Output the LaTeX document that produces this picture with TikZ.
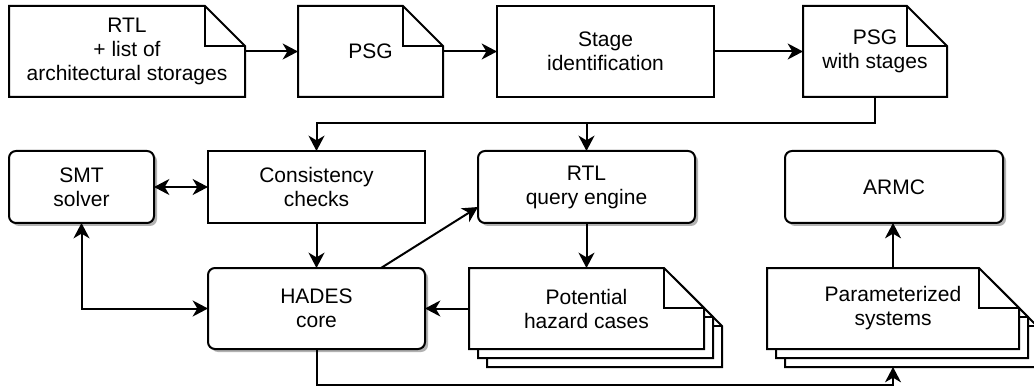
\documentclass[tikz,border=0pt]{standalone}
\usepackage{fontspec}
\setmainfont{Liberation Sans}
\usetikzlibrary{arrows.meta,backgrounds,calc,shadows}

% one drawing unit = one pixel of the layout grid
\newlength\pxu \setlength\pxu{0.75pt}
\newlength\foldsz \setlength\foldsz{40\pxu}

\tikzset{
  box/.style={inner sep=0pt, outer sep=0pt, align=center,
    font=\fontsize{15.75}{18}\selectfont},
  plainbox/.style={box, draw, line width=1.5pt, fill=white},
  roundbox/.style={box, draw, line width=1.5pt, fill=white, rounded corners=7\pxu,
    drop shadow={shadow xshift=3\pxu, shadow yshift=-3\pxu, fill=black!30, opacity=1}},
  docbox/.style={box},
  docline/.style={draw, line width=1.5pt, fill=white},
  link/.style={line width=1.5pt, -{Stealth[length=11.5pt, width=12pt, inset=3.5pt]}},
  twoway/.style={line width=1.5pt,
    {Stealth[length=11.5pt, width=12pt, inset=3.5pt]}-{Stealth[length=11.5pt, width=12pt, inset=3.5pt]}},
}

% page with a folded top-right corner, drawn around a node (optionally offset)
\newcommand\docsheet[3]{%
  \path[docline]
    ([shift={(#2,#3)}]#1.north west)
    -- ([shift={(#2,#3)}, xshift=-\foldsz]#1.north east)
    -- ([shift={(#2,#3)}, yshift=-\foldsz]#1.north east)
    -- ([shift={(#2,#3)}]#1.south east)
    -- ([shift={(#2,#3)}]#1.south west) -- cycle;
  \draw[line width=1.5pt]
    ([shift={(#2,#3)}, xshift=-\foldsz]#1.north east)
    |- ([shift={(#2,#3)}, yshift=-\foldsz]#1.north east);
}

\begin{document}
\begin{tikzpicture}[x=\pxu, y=-\pxu]
\useasboundingbox (0,0) rectangle (1034,388);

% top row
\node[docbox, minimum width=236\pxu, minimum height=91\pxu] (rtl) at (127,51.5)
  {RTL\\+ list of\\architectural storages};
\node[docbox, minimum width=145\pxu, minimum height=91\pxu] (psg) at (370.5,51.5) {PSG};
\node[plainbox, minimum width=217\pxu, minimum height=91\pxu] (stage) at (605.5,51.5)
  {Stage\\identification};
\node[docbox, minimum width=144\pxu, minimum height=91\pxu] (psgs) at (875,51.5)
  {PSG\\with stages};

% middle row
\node[roundbox, minimum width=145\pxu, minimum height=72\pxu] (smt) at (81.5,187)
  {SMT\\solver};
\node[plainbox, minimum width=217\pxu, minimum height=72\pxu] (cons) at (316.5,187)
  {Consistency\\checks};
\node[roundbox, minimum width=217\pxu, minimum height=72\pxu] (qe) at (586.5,187)
  {RTL\\query engine};
\node[roundbox, minimum width=218\pxu, minimum height=72\pxu] (armc) at (894,187) {ARMC};

% bottom row
\node[roundbox, minimum width=217\pxu, minimum height=81\pxu] (hades) at (316.5,308.5)
  {HADES\\core};
\node[docbox, minimum width=235\pxu, minimum height=81\pxu] (phc) at (586.5,308.5)
  {Potential\\hazard cases};
\node[docbox, minimum width=252\pxu, minimum height=81\pxu] (ps) at (893,308.5)
  {Parameterized\\systems};

% page outlines behind the texts
\begin{pgfonlayer}{background}
  \fill[white] (0,0) rectangle (1034,388);
  \docsheet{rtl}{0}{0}
  \docsheet{psg}{0}{0}
  \docsheet{psgs}{0}{0}
  \docsheet{phc}{18}{18}
  \docsheet{phc}{9}{9}
  \docsheet{phc}{0}{0}
  \docsheet{ps}{18}{18}
  \docsheet{ps}{9}{9}
  \docsheet{ps}{0}{0}
\end{pgfonlayer}

% connectors
\draw[link] (rtl.east) -- (psg.west);
\draw[link] (psg.east) -- (stage.west);
\draw[link] (stage.east) -- (psgs.west);

\coordinate (busTop) at ($(psgs.south)+(0,26)$);
\draw[link] (psgs.south) -- (busTop) -| (cons.north);
\draw[link] (qe.north |- busTop) -- (qe.north);

\draw[twoway] (smt.east) -- (cons.west);
\draw[link] (cons.south) -- (hades.north);
\draw[twoway] (smt.south) |- (hades.west);
\draw[link] ([xshift=64.5\pxu]hades.north) -- ([yshift=-20\pxu]qe.west);
\draw[link] (qe.south) -- (phc.north);
\draw[link] (phc.west) -- (hades.east);

\coordinate (busLow) at ($(hades.south)+(0,36)$);
\draw[link] (hades.south) -- (busLow) -| ([yshift=-18\pxu]ps.south);
\draw[link] (ps.north) -- (ps.north |- armc.south);
\end{tikzpicture}
\end{document}
